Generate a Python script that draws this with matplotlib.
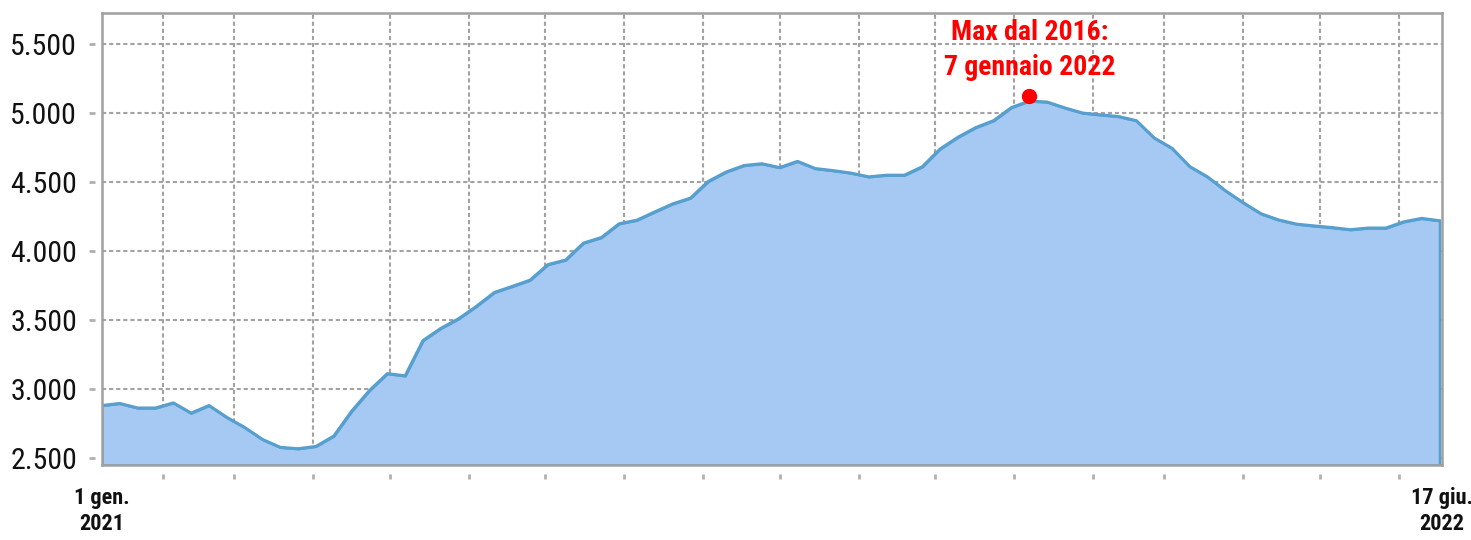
import matplotlib
matplotlib.use("Agg")
import matplotlib.pyplot as plt
import matplotlib.dates as mdates
import matplotlib.transforms as mtransforms
from matplotlib import font_manager
import pandas as pd

# ---- data (weekly values) ----
start_date = "2021-01-08"
values = [
    2881, 2896, 2863, 2863, 2900, 2826, 2881, 2795, 2722, 2635,
    2578, 2568, 2585, 2660, 2840, 2990, 3112, 3096, 3352, 3440,
    3510, 3600, 3700, 3744, 3789, 3902, 3935, 4058, 4098, 4198,
    4224, 4284, 4342, 4384, 4505, 4573, 4620, 4633, 4605, 4650,
    4598, 4583, 4565, 4538, 4550, 4550, 4611, 4740, 4825, 4895,
    4945, 5040, 5087, 5080, 5037, 5000, 4987, 4975, 4945, 4820,
    4745, 4612, 4537, 4437, 4350, 4270, 4225, 4195, 4182, 4170,
    4155, 4167, 4167, 4212, 4237, 4220,
]
dates = pd.date_range(start_date, periods=len(values), freq="7D")

y_ticks = [2500, 3000, 3500, 4000, 4500, 5000, 5500]
y_tick_labels = ["2.500", "3.000", "3.500", "4.000", "4.500", "5.000", "5.500"]
x_end_labels = ["1 gen.\n2021", "17 giu.\n2022"]

peak_date = pd.Timestamp("2022-01-07")
peak_marker_value = 5125
peak_text = "Max dal 2016:\n7 gennaio 2022"

# ---- fonts: prefer a narrow face if one is installed ----
available = {f.name for f in font_manager.fontManager.ttflist}
narrow_candidates = ["Liberation Sans Narrow", "Arial Narrow", "Roboto Condensed",
                     "Noto Sans Condensed", "Open Sans Condensed"]
narrow = next((n for n in narrow_candidates if n in available), None)
if narrow:
    FAM = [narrow, "Liberation Sans", "DejaVu Sans"]
    Y_FS, X_FS, R_FS = 21.5, 16, 20
else:
    FAM = ["Liberation Sans", "DejaVu Sans"]
    Y_FS, X_FS, R_FS = 19, 13.5, 17.5

# ---- style ----
FILL = "#a6c9f3"
LINE = "#569fce"
GRID = "#a2a2a2"
FRAME = "#a0a0a0"

fig = plt.figure(figsize=(14.71, 5.40), dpi=100)
ax = fig.add_axes([102 / 1471, 1 - 465 / 540, (1442 - 102) / 1471, (465 - 13) / 540])

x_min = pd.Timestamp("2021-01-08")
x_max = pd.Timestamp("2022-06-18")
y_min, y_max = 2450, 5725
ax.set_xlim(x_min, x_max)
ax.set_ylim(y_min, y_max)

ax.fill_between(dates, values, y_min, facecolor=FILL, edgecolor=LINE,
                linewidth=1.8, zorder=2)
ax.plot(dates, values, color=LINE, linewidth=2.2, zorder=3,
        solid_joinstyle="round")

# grid
ax.set_axisbelow(True)
ax.set_yticks(y_ticks)
ax.set_yticklabels(y_tick_labels, fontfamily=FAM, fontsize=Y_FS, color="#111111")
ax.xaxis.set_minor_locator(mdates.MonthLocator())
ax.set_xticks([x_min, x_max])
ax.set_xticklabels(x_end_labels, fontfamily=FAM, fontsize=X_FS,
                   fontweight="bold", color="#111111", linespacing=1.25)
ax.tick_params(axis="y", length=0, pad=18)
ax.tick_params(axis="x", which="both", length=0, pad=16)
grid_style = dict(color=GRID, linestyle=(0, (2.0, 1.4)), linewidth=1.5, zorder=0)
ax.grid(True, axis="y", which="major", **grid_style)
ax.grid(True, axis="x", which="minor", **grid_style)

for side in ["left", "right", "top", "bottom"]:
    ax.spines[side].set_color(FRAME)
    ax.spines[side].set_linewidth(1.8)
    ax.spines[side].set_zorder(4)

# detached tick marks (outside the frame)
ty = mtransforms.blended_transform_factory(ax.transAxes, ax.transData)
for v in y_ticks:
    ax.plot([-0.0095, -0.0050], [v, v], transform=ty, color="#b0b0b0",
            linewidth=2.0, clip_on=False, solid_capstyle="butt")
tx = mtransforms.blended_transform_factory(ax.transData, ax.transAxes)
for d in ax.xaxis.get_minorticklocs():
    ax.plot([d, d], [-0.020, -0.031], transform=tx, color="#b0b0b0",
            linewidth=2.0, clip_on=False, solid_capstyle="butt")

# peak annotation
ax.plot([peak_date], [peak_marker_value], "o", color="#ff0000",
        markersize=10, zorder=5, clip_on=False)
ax.annotate(peak_text, xy=(peak_date, peak_marker_value), xytext=(0, 11),
            textcoords="offset points", ha="center", va="bottom",
            fontsize=R_FS, fontweight="bold", color="#ff0000",
            fontfamily=FAM, linespacing=1.35, zorder=6)

fig.savefig("out.png", dpi=100)
